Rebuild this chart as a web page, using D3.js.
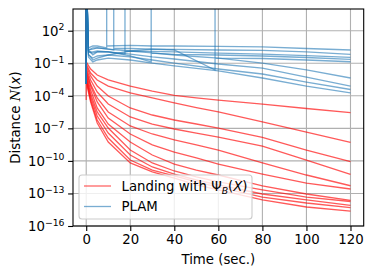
<!DOCTYPE html>
<html>
<head>
<meta charset="utf-8">
<script src="https://cdn.jsdelivr.net/npm/d3@7"></script>
<style>
  body { margin: 0; background: #fff; }
  svg text { font-family: "DejaVu Sans", sans-serif; fill: #000; }
</style>
</head>
<body>
<div id="chart"></div>
<script>
// ---- data (values stored as log10 exponents; 8 = off-chart spike) ----
const xTicks = [0, 20, 40, 60, 80, 100, 120];
const yTickExps = [2, -1, -4, -7, -10, -13, -16];

// red: t = 0 spike, 0 floor, 0 start, then the rest
const redT = [0, 0, 0, 2, 5, 10, 20, 30, 40, 50, 60, 80, 100, 120];
const redE = [
  [8, -0.88, -0.88, -1.53, -2.08, -2.54, -3.10, -3.56, -3.97, -4.20, -4.39, -4.76, -5.17, -5.56],
  [8, -1.07, -1.07, -1.90, -2.54, -3.10, -3.74, -4.20, -4.66, -5.08, -5.49, -6.41, -7.34, -8.29],
  [8, -1.25, -1.25, -2.17, -3.10, -4.02, -5.12, -5.77, -6.23, -6.60, -6.97, -7.84, -9.00, -10.06],
  [8, -1.44, -1.44, -2.54, -3.65, -4.76, -5.95, -6.60, -7.06, -7.43, -7.80, -8.63, -9.92, -11.24],
  [8, -1.62, -1.62, -2.91, -4.20, -5.49, -6.78, -7.52, -8.07, -8.53, -9.00, -10.19, -11.30, -12.29],
  [8, -1.81, -1.81, -3.10, -4.57, -6.05, -7.52, -8.53, -9.18, -9.73, -10.29, -11.21, -12.04, -12.59],
  [8, -1.99, -1.99, -3.46, -5.12, -6.60, -8.26, -9.46, -10.29, -10.84, -11.30, -12.31, -13.05, -13.63],
  [8, -2.17, -2.17, -3.83, -5.49, -6.97, -9.00, -10.19, -10.93, -11.48, -11.94, -12.68, -13.33, -13.74],
  [8, -2.36, -2.36, -4.11, -5.86, -7.43, -9.46, -10.56, -11.21, -11.76, -12.22, -13.05, -13.60, -14.09],
  [8, -2.54, -2.54, -4.39, -6.23, -7.89, -9.92, -10.84, -11.39, -11.94, -12.41, -13.33, -13.88, -14.31],
  [8, -4.39, -2.73, -4.57, -6.51, -8.26, -10.19, -11.02, -11.58, -12.22, -12.68, -13.60, -14.25, -14.62]
];

const blueT = [
  [0, 0, 1, 3, 5, 9.3, 9.3, 9.3, 20, 30, 40, 60, 80, 100, 120],
  [0, 0, 1, 3, 5, 10, 12.5, 12.5, 12.5, 20, 30, 40, 60, 80, 100, 120],
  [0, 0, 1, 3, 5, 10, 17.6, 17.6, 17.6, 30, 40, 60, 80, 100, 120],
  [0, 0, 1, 3, 5, 10, 20, 29.5, 29.5, 29.5, 40, 60, 80, 100, 120],
  [0, 0, 1, 3, 5, 10, 20, 30, 40, 58.5, 58.5, 58.5, 80, 100, 120],
  [0, 0, 1, 3, 5, 10, 20, 30, 40, 60, 80, 100, 120],
  [0, 0, 1, 3, 5, 10, 20, 30, 40, 60, 80, 100, 120],
  [0, 0, 1, 3, 5, 10, 20, 30, 40, 60, 80, 100, 120],
  [0, 0, 1, 3, 5, 10, 20, 30, 40, 60, 80, 100, 120]
];
const blueE = [
  [-2.91, 8, 0.41, 0.59, 0.59, 0.41, 8, 0.59, 0.64, 0.59, 0.59, 0.55, 0.50, 0.36, 0.22],
  [-2.91, 8, 0.22, 0.31, 0.41, 0.31, 0.22, 8, 0.36, 0.36, 0.31, 0.27, 0.22, 0.18, 0.04, -0.18],
  [-2.91, 8, 0.22, -0.24, 0.04, 0.04, -0.15, 8, 0.13, 0.09, 0.04, -0.06, -0.15, -0.29, -0.45],
  [-2.91, 8, 0.04, -0.06, 0.04, 0.04, -0.33, -0.88, 8, -0.06, -0.19, -0.24, -0.33, -0.47, -0.64],
  [-2.91, 8, -0.15, -0.70, -0.52, -0.24, 0.13, 0.31, 0.22, -1.62, 8, -0.52, -0.56, -0.70, -0.86],
  [-2.91, 8, 0.22, 0.41, 0.41, 0.31, 0.13, -0.05, -0.24, -0.52, -0.98, -1.62, -2.36],
  [-2.91, 8, 0.04, 0.04, 0.13, 0.04, -0.15, -0.42, -0.61, -1.07, -1.44, -2.27, -3.10],
  [-2.91, 8, -0.24, -0.52, -0.33, -0.24, -0.42, -0.70, -0.98, -1.53, -1.99, -2.73, -3.42],
  [-2.91, 8, -0.42, -0.88, -0.70, -0.52, -0.70, -0.98, -1.25, -1.71, -2.36, -3.10, -3.74]
];

// ---- layout ----
const W = 373, H = 275;
const plot = { left: 73, right: 363.7, top: 9, bottom: 226 };
const FS = 13.3;

const svg = d3.select('#chart').append('svg')
  .attr('width', W).attr('height', H);

const x = d3.scaleLinear().domain([-6, 126]).range([plot.left, plot.right]);
const y = d3.scaleLog().domain([1e-16, 1e4]).range([plot.bottom, plot.top]);

svg.append('defs').append('clipPath').attr('id', 'clip')
  .append('rect')
  .attr('x', plot.left).attr('y', plot.top)
  .attr('width', plot.right - plot.left).attr('height', plot.bottom - plot.top);

// grid
const grid = svg.append('g');
grid.selectAll('.gx').data(xTicks).join('line')
  .attr('x1', d => x(d)).attr('x2', d => x(d))
  .attr('y1', plot.top).attr('y2', plot.bottom)
  .attr('stroke', '#b0b0b0').attr('stroke-width', 1.1);
grid.selectAll('.gy').data(yTickExps).join('line')
  .attr('x1', plot.left).attr('x2', plot.right)
  .attr('y1', d => y(10 ** d)).attr('y2', d => y(10 ** d))
  .attr('stroke', '#b0b0b0').attr('stroke-width', 1.1);

// curves
const line = d3.line().x(d => x(d[0])).y(d => y(10 ** Math.min(d[1], 8)));
const lines = svg.append('g').attr('clip-path', 'url(#clip)');

const redData = redE.map(es => es.map((e, i) => [redT[i], e]));
const blueData = blueE.map((es, k) => es.map((e, i) => [blueT[k][i], e]));

lines.selectAll('.red').data(redData).join('path')
  .attr('d', line).attr('fill', 'none')
  .attr('stroke', 'red').attr('stroke-opacity', 0.65).attr('stroke-width', 1.3);
lines.selectAll('.blue').data(blueData).join('path')
  .attr('d', line).attr('fill', 'none')
  .attr('stroke', '#1f77b4').attr('stroke-opacity', 0.6).attr('stroke-width', 1.3);

// frame
svg.append('rect')
  .attr('x', plot.left).attr('y', plot.top)
  .attr('width', plot.right - plot.left).attr('height', plot.bottom - plot.top)
  .attr('fill', 'none').attr('stroke', '#000').attr('stroke-width', 1.1);

// x axis
const xAxis = svg.append('g').attr('transform', `translate(0,${plot.bottom})`)
  .call(d3.axisBottom(x).tickValues(xTicks).tickSize(4.9).tickPadding(3.5).tickFormat(d => d));
xAxis.select('.domain').remove();
xAxis.selectAll('.tick line').attr('stroke-width', 1.1);
xAxis.selectAll('text').style('font-size', FS + 'px');

// y axis with superscript labels
const yAxis = svg.append('g').attr('transform', `translate(${plot.left},0)`)
  .call(d3.axisLeft(y).tickValues(yTickExps.map(e => 10 ** e)).tickSize(4.9).tickFormat(''));
yAxis.select('.domain').remove();
yAxis.selectAll('.tick line').attr('stroke-width', 1.1);

const yl = svg.append('g');
yTickExps.forEach(e => {
  const t = yl.append('text')
    .attr('x', 64.5).attr('y', y(10 ** e) + 5)
    .attr('text-anchor', 'end').style('font-size', FS + 'px');
  t.append('tspan').text('10');
  t.append('tspan').attr('dy', -5.5).style('font-size', (FS * 0.7) + 'px')
    .text(e < 0 ? '\u2212' + (-e) : String(e));
});

// axis labels
svg.append('text')
  .attr('x', (plot.left + plot.right) / 2).attr('y', 264)
  .attr('text-anchor', 'middle').style('font-size', FS + 'px')
  .text('Time (sec.)');

const ylab = svg.append('text')
  .attr('transform', `translate(20,${(plot.top + plot.bottom) / 2}) rotate(-90)`)
  .attr('text-anchor', 'middle').style('font-size', FS + 'px');
ylab.append('tspan').text('Distance ');
ylab.append('tspan').style('font-family', '"DejaVu Serif", serif').style('font-style', 'italic').text('N');
ylab.append('tspan').text('(');
ylab.append('tspan').style('font-style', 'italic').text('x');
ylab.append('tspan').text(')');

// legend
const lg = svg.append('g');
lg.append('rect')
  .attr('x', 79).attr('y', 175).attr('width', 173).attr('height', 44).attr('rx', 3)
  .attr('fill', '#fff').attr('fill-opacity', 0.8)
  .attr('stroke', '#cccccc').attr('stroke-width', 1.1);
const entries = [
  { color: 'red', yy: 186 },
  { color: '#1f77b4', yy: 206.5 }
];
entries.forEach(en => {
  lg.append('line').attr('x1', 84).attr('x2', 111).attr('y1', en.yy).attr('y2', en.yy)
    .attr('stroke', en.color).attr('stroke-opacity', 0.6).attr('stroke-width', 1.3);
});
const l1 = lg.append('text').attr('x', 121.5).attr('y', 186 + 4.8).style('font-size', FS + 'px');
l1.append('tspan').text('Landing with \u03A8');
l1.append('tspan').attr('dy', 3).style('font-size', (FS * 0.7) + 'px').style('font-style', 'italic').text('B');
l1.append('tspan').attr('dy', -3).text('(');
l1.append('tspan').style('font-style', 'italic').text('X');
l1.append('tspan').text(')');
lg.append('text').attr('x', 121.5).attr('y', 206.5 + 4.8).style('font-size', FS + 'px').text('PLAM');
</script>
</body>
</html>
